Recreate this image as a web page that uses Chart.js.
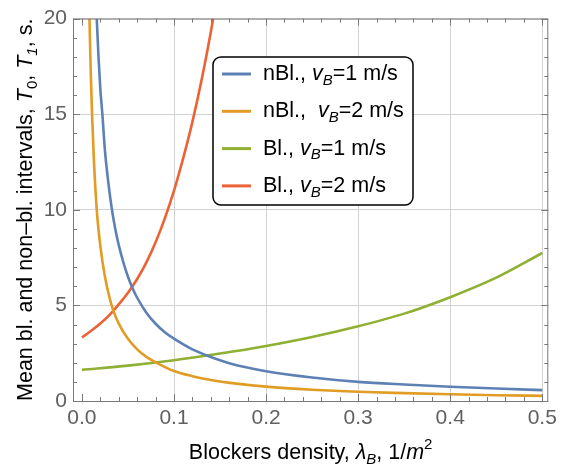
<!DOCTYPE html>
<html lang="en">

<head>
    <meta charset="UTF-8">
    <title>Blocked and non-blocked intervals</title>
    <script src="https://cdn.jsdelivr.net/npm/chart.js@4.4.1/dist/chart.umd.min.js"></script>
    <style>
        body { margin: 0; background: #fff; }
    </style>
</head>

<body>
    <canvas id="chart" width="562" height="470"></canvas>

    <script>
        // tick labels
        const xTickVals = [0, 0.1, 0.2, 0.3, 0.4, 0.5];
        const yTickVals = [0, 5, 10, 15, 20];

        // nBl., vB = 1 m/s
        const densNBl1 = [0.0161, 0.018, 0.02, 0.0222, 0.025, 0.028, 0.032, 0.036, 0.04, 0.045, 0.05, 0.055, 0.06, 0.07, 0.08, 0.09, 0.1, 0.12, 0.14, 0.161, 0.2, 0.25, 0.3, 0.35, 0.4, 0.45, 0.5];
        const timeNBl1 = [20, 18, 16.3, 15, 13.1, 11.7, 10.2, 9.05, 8.15, 7.25, 6.5, 5.9, 5.4, 4.62, 4.04, 3.6, 3.26, 2.7, 2.3, 1.96, 1.56, 1.23, 1.0, 0.86, 0.745, 0.65, 0.57];

        // nBl., vB = 2 m/s
        const densNBl2 = [0.0082, 0.0095, 0.011, 0.013, 0.0161, 0.02, 0.025, 0.03, 0.034, 0.04, 0.05, 0.06, 0.07, 0.0806, 0.1, 0.12, 0.14, 0.161, 0.2, 0.25, 0.3, 0.35, 0.4, 0.45, 0.5];
        const timeNBl2 = [20, 17.3, 15, 12.6, 10, 8.1, 6.5, 5.4, 4.74, 4.05, 3.25, 2.7, 2.31, 2.01, 1.57, 1.3, 1.1, 0.95, 0.75, 0.59, 0.48, 0.41, 0.35, 0.3, 0.27];

        // Bl., vB = 1 m/s
        const densBl1 = [0, 0.05, 0.1, 0.15, 0.2, 0.25, 0.3, 0.35, 0.4, 0.45, 0.5];
        const timeBl1 = [1.63, 1.85, 2.13, 2.48, 2.88, 3.35, 3.91, 4.57, 5.43, 6.45, 7.74];

        // Bl., vB = 2 m/s
        const densBl2 = [0, 0.01, 0.02, 0.03, 0.04, 0.05, 0.06, 0.07, 0.08, 0.09, 0.1, 0.11, 0.12, 0.13, 0.14, 0.1425];
        const timeBl2 = [3.32, 3.67, 4.05, 4.5, 5.05, 5.66, 6.38, 7.25, 8.3, 9.55, 11.0, 12.7, 14.6, 16.8, 19.3, 20];

        const colors = ['#5E81B5', '#E19C24', '#8FB032', '#EB6235'];

        // rich text pieces: [text, style] style: '' | 'i' | 'sub' | 'isub' | 'sup'
        const seriesLabels = [
            [['nBl., ', ''], ['v', 'i'], ['B', 'isub'], ['=1 m/s', '']],
            [['nBl.,  ', ''], ['v', 'i'], ['B', 'isub'], ['=2 m/s', '']],
            [['Bl., ', ''], ['v', 'i'], ['B', 'isub'], ['=1 m/s', '']],
            [['Bl., ', ''], ['v', 'i'], ['B', 'isub'], ['=2 m/s', '']]
        ];
        const xTitle = [['Blockers density, ', ''], ['\u03BB', 'i'], ['B', 'isub'], [', 1/', ''], ['m', 'i'], ['2', 'sup']];
        const yTitle = [['Mean bl. and non\u2013bl. intervals, ', ''], ['T', 'i'], ['0', 'sub'], [', ', ''], ['T', 'i'], ['1', 'isub'], [', s.', '']];

        const FONT = '"Liberation Sans", Arial, sans-serif';
        const TXT = 21.5;

        function pieceFont(style, size) {
            const small = style.includes('sub') || style === 'sup';
            const s = small ? Math.round(size * 0.72) : size;
            return (style.startsWith('i') ? 'italic ' : '') + s + 'px ' + FONT;
        }

        function richWidth(ctx, pieces, size) {
            let w = 0;
            pieces.forEach(p => { ctx.font = pieceFont(p[1], size); w += ctx.measureText(p[0]).width; });
            return w;
        }

        // draws text pieces starting at x, baseline middle at y
        function drawRich(ctx, pieces, x, y, size) {
            ctx.textBaseline = 'middle';
            ctx.textAlign = 'left';
            pieces.forEach(p => {
                ctx.font = pieceFont(p[1], size);
                let dy = 0;
                if (p[1].includes('sub')) dy = size * 0.3;
                if (p[1] === 'sup') dy = -size * 0.38;
                ctx.fillText(p[0], x, y + dy);
                x += ctx.measureText(p[0]).width;
            });
        }

        const framePlugin = {
            id: 'frame',
            afterDatasetsDraw(chart) {
                const { ctx, chartArea: a, scales } = chart;
                const xs = scales.x, ys = scales.y;
                ctx.save();
                ctx.strokeStyle = '#7a7a7a';
                ctx.lineWidth = 1;
                ctx.strokeRect(a.left + 0.5, a.top + 0.5, a.right - a.left - 1, a.bottom - a.top);

                ctx.beginPath();
                for (let i = 0; i <= 25; i++) {
                    const v = i * 0.02;
                    const len = (i % 5 === 0) ? 7 : 4;
                    const px = Math.round(xs.getPixelForValue(v)) + 0.5;
                    ctx.moveTo(px, a.bottom); ctx.lineTo(px, a.bottom - len);
                    ctx.moveTo(px, a.top); ctx.lineTo(px, a.top + len);
                }
                for (let i = 0; i <= 20; i++) {
                    const len = (i % 5 === 0) ? 7 : 4;
                    const py = Math.round(ys.getPixelForValue(i)) + 0.5;
                    ctx.moveTo(a.left, py); ctx.lineTo(a.left + len, py);
                    ctx.moveTo(a.right, py); ctx.lineTo(a.right - len, py);
                }
                ctx.stroke();
                ctx.restore();
            },
            afterDraw(chart) {
                const { ctx, chartArea: a } = chart;
                ctx.save();
                ctx.fillStyle = '#000';

                // axis titles
                const xw = richWidth(ctx, xTitle, TXT);
                drawRich(ctx, xTitle, (a.left + a.right) / 2 - xw / 2, 453, TXT);

                ctx.translate(26, (a.top + a.bottom) / 2);
                ctx.rotate(-Math.PI / 2);
                const yw = richWidth(ctx, yTitle, TXT);
                drawRich(ctx, yTitle, -yw / 2, 0, TXT);
                ctx.restore();

                // legend box
                ctx.save();
                ctx.fillStyle = '#fff';
                ctx.strokeStyle = '#000';
                ctx.lineWidth = 1.5;
                ctx.beginPath();
                ctx.roundRect(213, 57, 200, 148, 8);
                ctx.fill();
                ctx.stroke();
                seriesLabels.forEach((lab, i) => {
                    const y = 74 + i * 37.3;
                    ctx.strokeStyle = colors[i];
                    ctx.lineWidth = 3;
                    ctx.beginPath();
                    ctx.moveTo(222, y); ctx.lineTo(251, y);
                    ctx.stroke();
                    ctx.fillStyle = '#000';
                    drawRich(ctx, lab, 263, y, TXT);
                });
                ctx.restore();
            }
        };

        function makeSet(xv, yv, i) {
            return {
                data: xv.map((v, k) => ({ x: v, y: yv[k] })),
                borderColor: colors[i],
                borderWidth: 2.6,
                pointRadius: 0,
                showLine: true,
                cubicInterpolationMode: 'monotone',
                fill: false
            };
        }

        const ctx = document.getElementById('chart').getContext('2d');
        new Chart(ctx, {
            type: 'scatter',
            data: {
                datasets: [
                    makeSet(densNBl1, timeNBl1, 0),
                    makeSet(densNBl2, timeNBl2, 1),
                    makeSet(densBl1, timeBl1, 2),
                    makeSet(densBl2, timeBl2, 3)
                ]
            },
            options: {
                responsive: false,
                animation: false,
                devicePixelRatio: 1,
                layout: { padding: { left: 0, right: 9, top: 16, bottom: 0 } },
                plugins: {
                    legend: { display: false },
                    tooltip: { enabled: false }
                },
                scales: {
                    x: {
                        type: 'linear',
                        min: -0.0097,
                        max: 0.5065,
                        afterBuildTicks: s => { s.ticks = xTickVals.map(v => ({ value: v })); },
                        afterFit: s => { s.height = 69; },
                        border: { display: false },
                        grid: {
                            color: c => (c.tick && c.tick.value === 0) ? 'rgba(0,0,0,0)' : '#d2d2d2',
                            drawTicks: false,
                            lineWidth: 1
                        },
                        ticks: {
                            padding: 5,
                            color: '#606060',
                            font: { family: FONT, size: 21 },
                            maxRotation: 0,
                            callback: v => v.toFixed(1)
                        }
                    },
                    y: {
                        type: 'linear',
                        min: 0,
                        max: 20,
                        afterBuildTicks: s => { s.ticks = yTickVals.map(v => ({ value: v })); },
                        afterFit: s => { s.width = 73; },
                        border: { display: false },
                        grid: {
                            color: '#d2d2d2',
                            drawTicks: false,
                            lineWidth: 1
                        },
                        ticks: {
                            padding: 6,
                            color: '#606060',
                            font: { family: FONT, size: 21 },
                            callback: v => String(v)
                        }
                    }
                }
            },
            plugins: [framePlugin]
        });
    </script>
</body>

</html>
